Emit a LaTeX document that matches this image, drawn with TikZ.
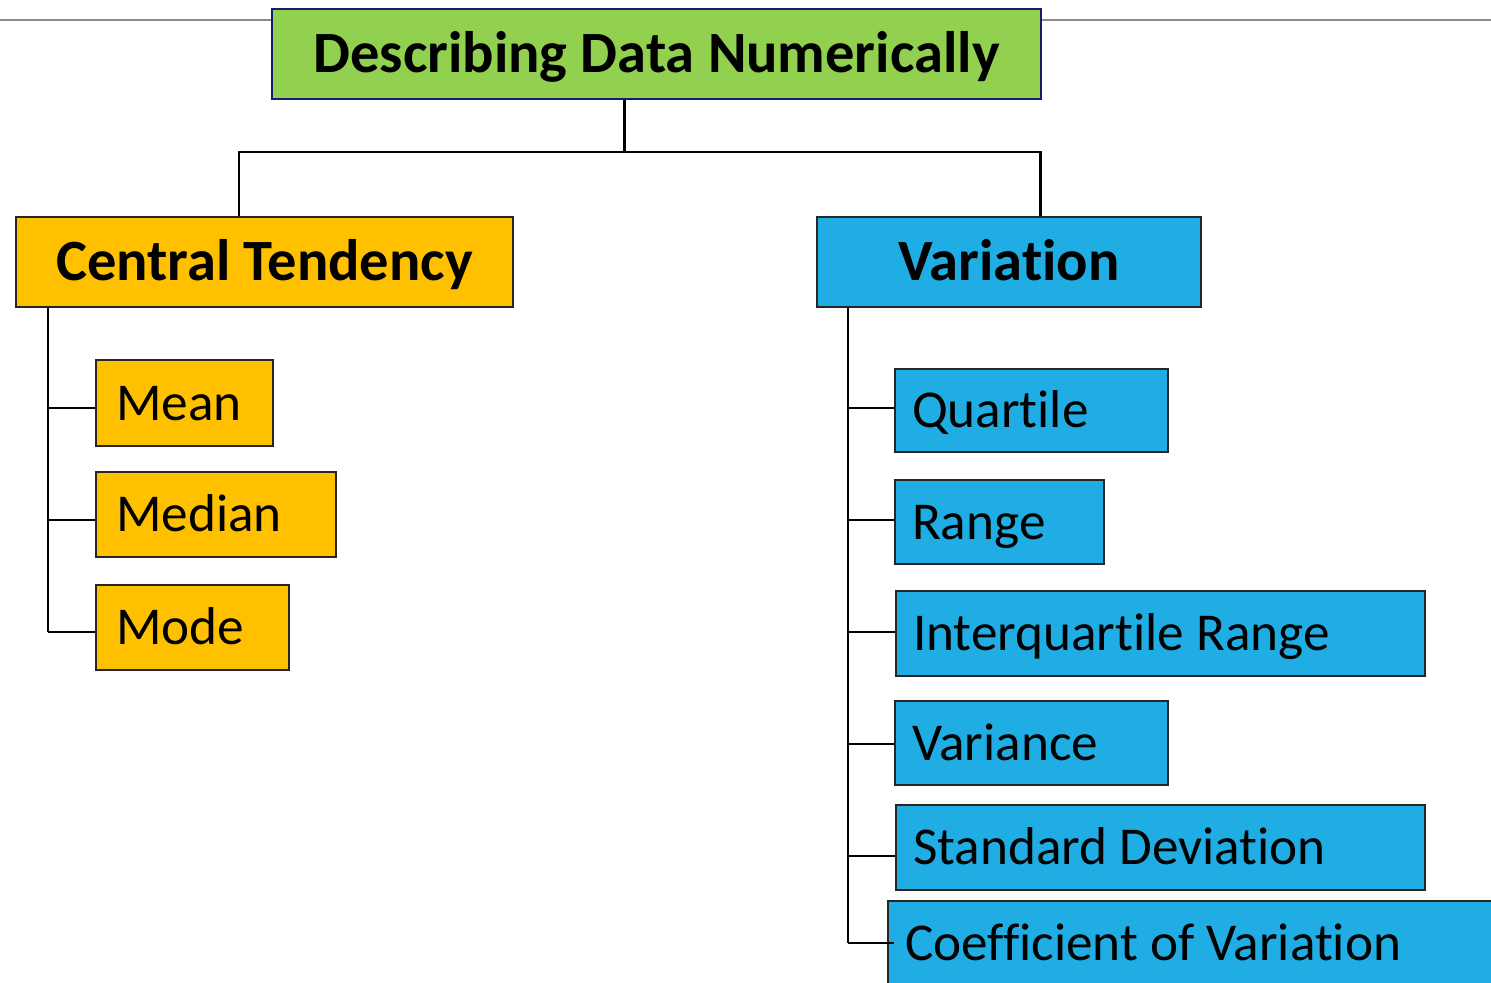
\documentclass[tikz,border=0pt]{standalone}
\usepackage{fontspec}
\setmainfont{Carlito}[Ligatures=NoCommon]
\definecolor{CGreen}{HTML}{92D050}
\definecolor{CAmber}{HTML}{FFC000}
\definecolor{CSky}{HTML}{1FADE4}
\definecolor{CNavy}{HTML}{1A1A6E}
\definecolor{CRule}{HTML}{8C8C8C}

\begin{document}
\begin{tikzpicture}[
    x=0.02cm, y=-0.02cm,
    % box looks
    titlebox/.style={draw=CNavy, fill=CGreen, line width=1.3pt, anchor=north west,
        font=\fontsize{33.3}{40}\selectfont\bfseries, text height=21.4pt, text depth=0pt},
    headbox/.style={draw=black!85, line width=1.2pt, anchor=north west,
        font=\fontsize{33.3}{40}\selectfont\bfseries, text height=21.4pt, text depth=0pt},
    leaf/.style={draw=black!85, line width=1.2pt, anchor=north west,
        font=\fontsize{30.3}{36}\selectfont, text height=19.5pt, text depth=0pt,
        execute at begin node={\spaceskip=0pt\xspaceskip=0pt\relax}}, % keep the font's own word space
    trunk/.style={draw=black, line width=1.7pt},
    branch/.style={draw=black, line width=1.1pt},
    rule/.style={draw=CRule, line width=0.9pt}
]
    \clip (0,0) rectangle (1491,983);

    % top heading
    \node[titlebox, minimum width=15.38cm, minimum height=1.8cm] (title) at (271,8) {Describing Data Numerically};

    % thin rule running behind the heading
    \coordinate (ruleL) at (0,20);
    \coordinate (ruleR) at (1491,20);
    \draw[rule] (ruleL) -- (ruleL -| title.west);
    \draw[rule] (title.east |- ruleR) -- (ruleR);

    % the two groups
    \node[headbox, fill=CAmber, minimum width=9.94cm, minimum height=1.8cm] (ct) at (15,216) {Central Tendency};
    \node[headbox, fill=CSky, minimum width=7.68cm, minimum height=1.8cm] (var) at (816,216) {Variation};

    % split from the heading down to both groups
    \coordinate (split) at (624,152);
    \coordinate (ctDrop) at (239,152);
    \coordinate (varDrop) at (1040,152);
    \draw[trunk] (title.south -| split) -- (split);
    \draw[trunk] (ctDrop |- ct.north) -- (ctDrop) -- (varDrop) -- (varDrop |- var.north);

    % -------------------------
    % Left: central tendency
    % -------------------------
    \begin{scope}[leaf/.append style={fill=CAmber, inner xsep=0.40cm}]
        \node[leaf, text width=2.74cm, minimum height=1.72cm] (mean) at (95,359) {Mean};
        \node[leaf, text width=4.0cm, minimum height=1.70cm] (median) at (95,471) {Median};
        \node[leaf, text width=3.06cm, minimum height=1.70cm] (mode) at (95,584) {Mode};
    \end{scope}

    \coordinate (ctStem) at ([xshift=0.66cm]ct.south west);
    \draw[branch] (ctStem) -- (ctStem |- 0,632);
    \foreach \leafname/\tapy in {mean/408, median/520, mode/632} {
        \coordinate (tap) at (0,\tapy);
        \draw[branch] (ctStem |- tap) -- (\leafname.west |- tap);
    }

    % -------------------------
    % Right: variation
    % -------------------------
    \begin{scope}[leaf/.append style={fill=CSky, inner xsep=0.34cm}]
        \node[leaf, text width=4.78cm, minimum height=1.66cm] (quart) at (894,368) {Quartile};
        \node[leaf, text width=3.50cm, minimum height=1.68cm] (range) at (894,479) {Range};
        \node[leaf, text width=9.90cm, minimum height=1.70cm] (iqr) at (895,590) {Interquartile Range};
        \node[leaf, text width=4.78cm, minimum height=1.68cm] (vari) at (894,700) {Variance};
        \node[leaf, text width=9.90cm, minimum height=1.70cm] (sdev) at (895,804) {Standard Deviation};
        \node[leaf, text width=11.6cm, minimum height=1.68cm] (cov) at (887,900) {Coefficient of Variation};
    \end{scope}

    \coordinate (varStem) at ([xshift=0.64cm]var.south west);
    \draw[branch] (varStem) -- (varStem |- cov.west);
    \foreach \leafname/\tapy in {quart/408, range/520, iqr/632, vari/744, sdev/856} {
        \coordinate (tap) at (0,\tapy);
        \draw[branch] (varStem |- tap) -- (\leafname.west |- tap);
    }
    \draw[branch] (varStem |- cov.west) -- ([xshift=0.14cm]cov.west);

\end{tikzpicture}
\end{document}
